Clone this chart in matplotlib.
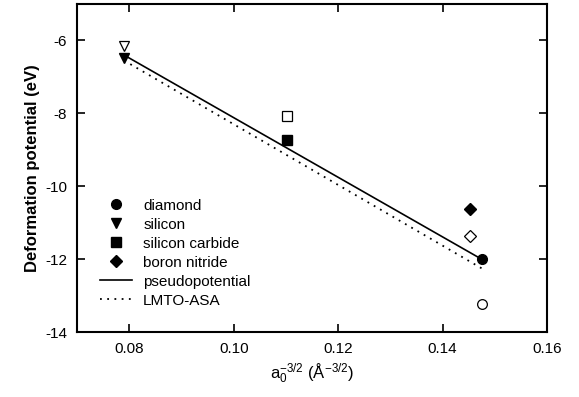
import matplotlib
matplotlib.use("Agg")
from matplotlib import pyplot as plt

plt.rcParams['font.family'] = ['Liberation Sans', 'DejaVu Sans']
plt.rcParams['mathtext.fontset'] = 'custom'
plt.rcParams['mathtext.rm'] = 'Liberation Sans'
plt.rcParams['mathtext.it'] = 'Liberation Sans'
plt.rcParams['axes.unicode_minus'] = False

# x = a0^(-3/2), y = deformation potential (eV)
materials = ["diamond", "silicon", "silicon carbide", "boron nitride"]
markers = ["o", "v", "s", "D"]
x_vals = [0.1475, 0.0790, 0.1102, 0.1452]
y_filled = [-12.0, -6.47, -8.74, -10.63]
y_open = [-13.23, -6.16, -8.08, -11.37]

pseudo_x = [0.0790, 0.1475]
pseudo_y = [-6.40, -12.00]
lmto_x = [0.0790, 0.1475]
lmto_y = [-6.55, -12.25]


def main():
    fig, ax = plt.subplots(figsize=(5.79, 3.97), dpi=100)
    fig.subplots_adjust(left=0.133, right=0.945, top=0.99, bottom=0.163)

    handles = []
    for name, m, x, yf, yo in zip(materials, markers, x_vals, y_filled, y_open):
        ms = 7 if m != "D" else 6
        h, = ax.plot(x, yf, m, color="black", ms=ms, label=name, zorder=3)
        ax.plot(x, yo, m, mfc="white", mec="black", mew=0.9, ms=ms, zorder=3)
        handles.append(h)

    h1, = ax.plot(pseudo_x, pseudo_y, "-", color="black", lw=1.2,
                  label="pseudopotential")
    h2, = ax.plot(lmto_x, lmto_y, linestyle=(0, (1, 3)), color="black",
                  lw=1.3, label="LMTO-ASA")
    handles += [h1, h2]

    ax.set_xlim(0.07, 0.16)
    ax.set_ylim(-14, -5)
    ax.set_xticks([0.08, 0.10, 0.12, 0.14, 0.16])
    ax.set_xticklabels(["0.08", "0.10", "0.12", "0.14", "0.16"])
    ax.set_yticks([-14, -12, -10, -8, -6])
    ax.tick_params(direction="in", top=True, right=True, length=6,
                   width=1.2, labelsize=11, pad=7)
    for s in ax.spines.values():
        s.set_linewidth(1.5)

    ax.set_xlabel(r"a$_0^{\mathregular{-3/2}}$ (Å$^{\mathregular{-3/2}}$)",
                  fontsize=12)
    ax.set_ylabel("Deformation potential (eV)", fontsize=12,
                  fontweight="bold")

    ax.legend(handles=handles, loc="upper left",
              bbox_to_anchor=(0.027, 0.44), frameon=False, fontsize=11,
              handlelength=2.1, labelspacing=0.33, handletextpad=0.7,
              borderaxespad=0.3)

    fig.savefig("out.png", dpi=100)


if __name__ == "__main__":
    main()
